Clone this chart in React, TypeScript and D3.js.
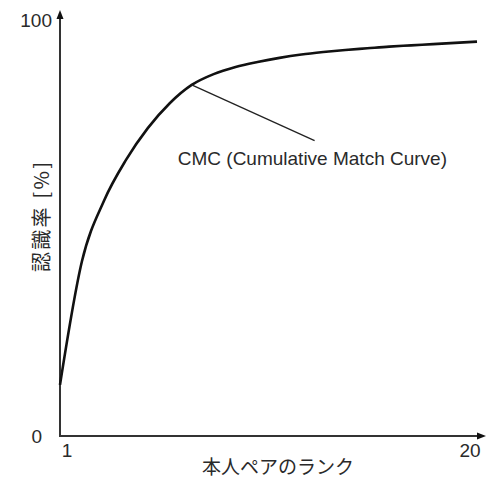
import React, { useEffect, useRef } from "react";
import * as d3 from "d3";

// 本人ペアのランク (1〜20)
const ranks = [1, 2, 3, 4, 5, 6, 7, 8, 9, 10, 11, 12, 13, 14, 15, 16, 17, 18, 19, 20];
// 認識率 [%]
const rates = [
    12.3, 42.0, 56.5, 66.3, 74.0, 80.0, 84.4, 87.0, 88.7, 89.9,
    90.9, 91.7, 92.3, 92.8, 93.2, 93.6, 93.9, 94.2, 94.5, 94.8,
];

const xTickLabels = ["1", "20"];
const yTickLabels = ["0", "100"];
const xTickValues = [1, 20];
const yTickValues = [0, 100];

const xTitle = "本人ペアのランク";
const yTitle = "認識率 [%]";
const annotationText = "CMC (Cumulative Match Curve)";
// 注釈線: 曲線上のランク → ラベル側の端点 (データ座標)
const annotationAnchorRank = 7;
const annotationEnd = { rank: 12.6, rate: 71.0 };
const annotationLabelPos = { rank: 12.5, rate: 65.2 };

const W = 496;
const H = 479;

const App: React.FC = () => {
    const svgRef = useRef<SVGSVGElement | null>(null);

    useEffect(() => {
        if (!svgRef.current) return;
        const svg = d3.select(svgRef.current);
        svg.selectAll("*").remove();

        const x = d3.scaleLinear().domain([1, 20]).range([60, 477]);
        const y = d3.scaleLinear().domain([0, 100]).range([436, 20]);

        const axisColor = "#333";
        const textColor = "#2a2a2a";
        const latin = "'Liberation Sans', Arial, sans-serif";
        const cjk = "'Noto Sans CJK JP', 'Liberation Sans', sans-serif";

        // 軸
        const x0 = x(1);
        const y0 = y(0);
        const xEnd = x(20) + 9;
        const yEnd = y(100) - 10;

        svg.append("line")
            .attr("x1", x0).attr("y1", y0)
            .attr("x2", x0).attr("y2", yEnd + 6)
            .attr("stroke", axisColor).attr("stroke-width", 2);
        svg.append("line")
            .attr("x1", x0 - 1).attr("y1", y0)
            .attr("x2", xEnd - 6).attr("y2", y0)
            .attr("stroke", axisColor).attr("stroke-width", 2);

        // 矢印
        svg.append("path")
            .attr("d", `M${x0},${yEnd} L${x0 - 3.5},${yEnd + 9} L${x0 + 3.5},${yEnd + 9} Z`)
            .attr("fill", "#111");
        svg.append("path")
            .attr("d", `M${xEnd},${y0} L${xEnd - 9},${y0 - 3.5} L${xEnd - 9},${y0 + 3.5} Z`)
            .attr("fill", "#111");

        // 目盛ラベル
        svg.selectAll(".ytick")
            .data(yTickValues)
            .enter()
            .append("text")
            .attr("class", "ytick")
            .attr("x", (_d, i) => (i === 0 ? x0 - 18 : x0 - 8))
            .attr("y", (d) => y(d) + 7)
            .attr("text-anchor", "end")
            .attr("font-family", latin)
            .attr("font-size", 19)
            .attr("fill", textColor)
            .text((_d, i) => yTickLabels[i]);

        svg.selectAll(".xtick")
            .data(xTickValues)
            .enter()
            .append("text")
            .attr("class", "xtick")
            .attr("x", (d, i) => x(d) + (i === 0 ? 7 : -7))
            .attr("y", y0 + 21)
            .attr("text-anchor", "middle")
            .attr("font-family", latin)
            .attr("font-size", 19)
            .attr("fill", textColor)
            .text((_d, i) => xTickLabels[i]);

        // 軸タイトル
        svg.append("text")
            .attr("x", 278)
            .attr("y", 474)
            .attr("text-anchor", "middle")
            .attr("font-family", cjk)
            .attr("font-size", 19)
            .attr("fill", textColor)
            .text(xTitle);

        svg.append("text")
            .attr("transform", `translate(49,217) rotate(-90)`)
            .attr("text-anchor", "middle")
            .attr("font-family", cjk)
            .attr("font-size", 20)
            .attr("fill", textColor)
            .attr("textLength", 110)
            .attr("lengthAdjust", "spacing")
            .text(yTitle);

        // CMC曲線
        const line = d3
            .line<number>()
            .x((_d, i) => x(ranks[i]))
            .y((d) => y(d))
            .curve(d3.curveMonotoneX);

        svg.append("path")
            .datum(rates)
            .attr("fill", "none")
            .attr("stroke", "#111")
            .attr("stroke-width", 2.6)
            .attr("d", line);

        // 注釈
        const ai = ranks.indexOf(annotationAnchorRank);
        svg.append("line")
            .attr("x1", x(annotationAnchorRank))
            .attr("y1", y(rates[ai]))
            .attr("x2", x(annotationEnd.rank))
            .attr("y2", y(annotationEnd.rate))
            .attr("stroke", "#222")
            .attr("stroke-width", 1.3);

        svg.append("text")
            .attr("x", x(annotationLabelPos.rank))
            .attr("y", y(annotationLabelPos.rate))
            .attr("text-anchor", "middle")
            .attr("font-family", latin)
            .attr("font-size", 19)
            .attr("fill", textColor)
            .text(annotationText);
    }, []);

    return (
        <svg
            ref={svgRef}
            width={W}
            height={H}
            style={{ position: "absolute", left: 0, top: 0, background: "#fff" }}
        />
    );
};

export default App;
